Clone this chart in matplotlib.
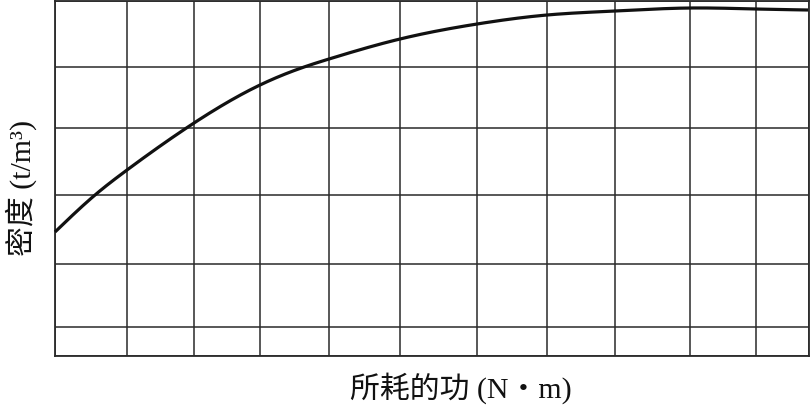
import matplotlib
matplotlib.use("Agg")
import matplotlib.pyplot as plt
import numpy as np

# Data in plot units (offsets from the lower-left corner of the grid)
grid_x = [0, 72, 139, 205, 274, 345, 422, 492, 560, 635, 701, 754]
grid_y = [0, 29, 92, 161, 228, 289, 355]
curve_x = [0, 40, 72, 139, 205, 255, 274, 345, 422, 492, 560, 635, 701, 753]
curve_y = [124, 161, 186, 233, 271, 291, 297, 317, 332, 341, 345, 348, 347, 346]

xlabel = "所耗的功 (N・m)"
ylabel = "密度 (t/m³)"

fam = ["Liberation Serif", "Noto Sans CJK SC", "DejaVu Sans"]


def natural_spline(x, y, xs):
    x = np.asarray(x, float); y = np.asarray(y, float)
    n = len(x)
    h = np.diff(x)
    A = np.zeros((n, n)); b = np.zeros(n)
    A[0, 0] = 1; A[-1, -1] = 1
    for i in range(1, n - 1):
        A[i, i - 1] = h[i - 1]
        A[i, i] = 2 * (h[i - 1] + h[i])
        A[i, i + 1] = h[i]
        b[i] = 3 * ((y[i + 1] - y[i]) / h[i] - (y[i] - y[i - 1]) / h[i - 1])
    c = np.linalg.solve(A, b)
    bb = (np.diff(y) / h) - h * (2 * c[:-1] + c[1:]) / 3
    d = np.diff(c) / (3 * h)
    idx = np.clip(np.searchsorted(x, xs) - 1, 0, n - 2)
    t = xs - x[idx]
    return y[idx] + bb[idx] * t + c[idx] * t ** 2 + d[idx] * t ** 3


fig = plt.figure(figsize=(8.10, 4.07), dpi=100)
ax = fig.add_axes([55/810, 1 - 356/407, 754/810, 355/407])

xs = np.linspace(curve_x[0], curve_x[-1], 600)
ys = natural_spline(curve_x, curve_y, xs)
ax.plot(xs, ys, color="#111111", lw=2.3, solid_capstyle="butt", zorder=3, clip_on=False)

ax.set_xlim(grid_x[0], grid_x[-1])
ax.set_ylim(grid_y[0], grid_y[-1])
ax.set_xticks(grid_x)
ax.set_yticks(grid_y)
ax.tick_params(length=0, labelbottom=False, labelleft=False)
ax.grid(True, color="#2a2a2a", lw=1.1)
for s in ax.spines.values():
    s.set_color("#2a2a2a")
    s.set_linewidth(1.3)

fig.text(461/810, 1 - 388/407, xlabel, ha="center", va="center",
         fontsize=21.5, family=fam, color="#111111")
fig.text(21/810, 1 - 188/407, ylabel, ha="center", va="center", rotation=90,
         fontsize=21.5, family=fam, color="#111111")

fig.savefig("out.png", dpi=100)
